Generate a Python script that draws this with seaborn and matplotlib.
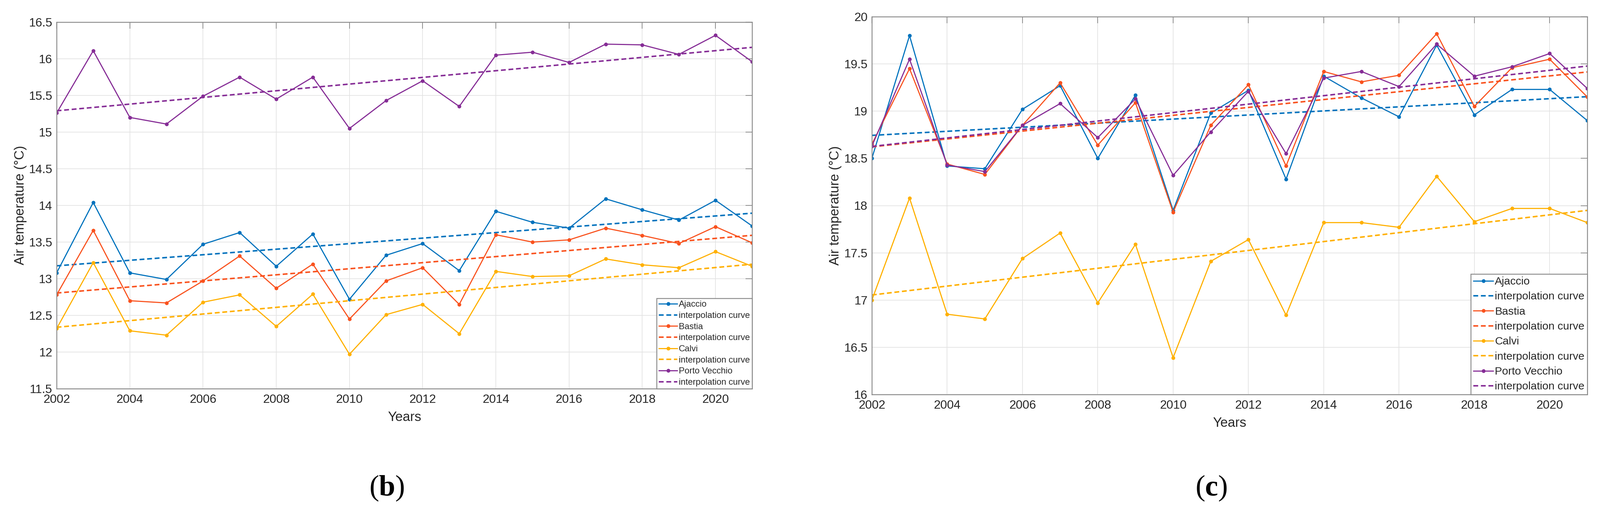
import numpy as np
import pandas as pd
import matplotlib
matplotlib.use("Agg")
import matplotlib.pyplot as plt
import seaborn as sns

# ---------------- data ----------------
years = list(range(2002, 2022))
stations = ["Ajaccio", "Bastia", "Calvi", "Porto Vecchio"]

# panel (b)
b_ajaccio = [13.08, 14.04, 13.08, 12.99, 13.47, 13.63, 13.17, 13.61, 12.72, 13.32,
             13.48, 13.11, 13.92, 13.77, 13.69, 14.09, 13.94, 13.80, 14.07, 13.72]
b_bastia = [12.78, 13.66, 12.70, 12.67, 12.97, 13.31, 12.87, 13.20, 12.45, 12.97,
            13.15, 12.65, 13.60, 13.50, 13.53, 13.69, 13.59, 13.48, 13.71, 13.49]
b_calvi = [12.32, 13.22, 12.29, 12.23, 12.68, 12.78, 12.35, 12.79, 11.97, 12.51,
           12.65, 12.25, 13.10, 13.03, 13.04, 13.27, 13.19, 13.15, 13.37, 13.17]
b_porto = [15.26, 16.11, 15.20, 15.11, 15.49, 15.75, 15.45, 15.75, 15.05, 15.43,
           15.70, 15.35, 16.05, 16.09, 15.95, 16.20, 16.19, 16.06, 16.32, 15.96]

# panel (c)
c_ajaccio = [18.50, 19.80, 18.42, 18.39, 19.02, 19.27, 18.50, 19.17, 17.95, 18.98,
             19.22, 18.28, 19.37, 19.14, 18.94, 19.70, 18.96, 19.23, 19.23, 18.90]
c_bastia = [18.65, 19.45, 18.44, 18.33, 18.85, 19.30, 18.64, 19.09, 17.93, 18.85,
            19.28, 18.42, 19.42, 19.31, 19.38, 19.82, 19.05, 19.46, 19.55, 19.15]
c_calvi = [17.00, 18.08, 16.85, 16.80, 17.44, 17.71, 16.97, 17.59, 16.39, 17.41,
           17.64, 16.84, 17.82, 17.82, 17.77, 18.31, 17.83, 17.97, 17.97, 17.82]
c_porto = [18.63, 19.55, 18.43, 18.36, 18.85, 19.08, 18.72, 19.13, 18.32, 18.78,
           19.21, 18.55, 19.35, 19.42, 19.26, 19.71, 19.37, 19.47, 19.61, 19.24]

b_yticks = [11.5, 12, 12.5, 13, 13.5, 14, 14.5, 15, 15.5, 16, 16.5]
c_yticks = [16, 16.5, 17, 17.5, 18, 18.5, 19, 19.5, 20]
xticks = [2002, 2004, 2006, 2008, 2010, 2012, 2014, 2016, 2018, 2020]
trend_label = "interpolation curve"
xlabel = "Years"
ylabel = "Air temperature (\u00b0C)"

colors = ["#0072BD", "#F9521E", "#FFB000", "#862D96"]

# ---------------- style ----------------
sns.set_theme(style="white")
plt.rcParams["font.family"] = ["Liberation Sans", "DejaVu Sans"]
plt.rcParams["mathtext.fontset"] = "custom"
plt.rcParams["mathtext.bf"] = "Liberation Serif:bold"

W, H = 4408, 1419
fig = plt.figure(figsize=(W / 100, H / 100), dpi=100)

def px_axes(l, t, r, b):
    return fig.add_axes([l / W, 1 - b / H, (r - l) / W, (b - t) / H])

ax_b = px_axes(156, 61, 2072, 1071)
ax_c = px_axes(2402, 46, 4373, 1087)

SPINE = "#8A8A8A"
TXT = "#262626"

def draw(ax, series, yticks, leg_fs, leg_hl, leg_ls, ylab_x, xlab_y):
    handles, labels = [], []
    for name, vals, col in zip(stations, series, colors):
        df = pd.DataFrame({"year": years, "temp": vals})
        n0 = len(ax.lines)
        sns.lineplot(data=df, x="year", y="temp", ax=ax, color=col, lw=2.2,
                     marker="o", markersize=7.5, markeredgewidth=0,
                     errorbar=None, legend=False)
        handles.append(ax.lines[n0]); labels.append(name)
        n1 = len(ax.lines)
        sns.regplot(data=df, x="year", y="temp", ax=ax, scatter=False, ci=None,
                    truncate=True, color=col,
                    line_kws=dict(lw=3.0, dashes=(3.2, 1.8)))
        handles.append(ax.lines[n1]); labels.append(trend_label)

    ax.set_xlim(2002, 2021)
    ax.set_ylim(yticks[0], yticks[-1])
    ax.set_xticks(xticks)
    ax.set_yticks(yticks)
    ax.set_yticklabels([f"{t:g}" for t in yticks])
    ax.grid(True, color="#E2E2E2", lw=1.3)
    ax.set_axisbelow(True)
    for s in ax.spines.values():
        s.set_visible(True)
        s.set_color(SPINE)
        s.set_linewidth(1.8)
    ax.tick_params(axis="both", direction="in", top=True, right=True,
                   length=13, width=1.5, color=SPINE, labelsize=24,
                   labelcolor=TXT)
    ax.tick_params(axis="x", pad=11)
    ax.tick_params(axis="y", pad=8.6)
    ax.set_xlabel(xlabel, fontsize=26.5, color=TXT)
    ax.set_ylabel(ylabel, fontsize=26.5, color=TXT)
    ax.yaxis.set_label_coords(ylab_x, 0.5)
    ax.xaxis.set_label_coords(0.5, xlab_y)

    leg = ax.legend(handles, labels, loc="lower right", bbox_to_anchor=(1, 0),
                    borderaxespad=0, fontsize=leg_fs, handlelength=leg_hl,
                    handletextpad=0.15, borderpad=0.25, labelspacing=leg_ls,
                    fancybox=False, framealpha=1, edgecolor=SPINE)
    leg.get_frame().set_linewidth(1.8)
    for t in leg.get_texts():
        t.set_color(TXT)

draw(ax_b, [b_ajaccio, b_bastia, b_calvi, b_porto], b_yticks,
     17.3, 2.15, 0.36, -0.043, -0.061)
draw(ax_c, [c_ajaccio, c_bastia, c_calvi, c_porto], c_yticks,
     21.8, 1.8, 0.44, -0.042, -0.060)

fig.text(1065 / W, 1 - 1346 / H, r"($\mathbf{b}$)", fontsize=58,
         family="Liberation Serif", ha="center", va="center", color="black")
fig.text(3337 / W, 1 - 1346 / H, r"($\mathbf{c}$)", fontsize=58,
         family="Liberation Serif", ha="center", va="center", color="black")

fig.savefig("out.png", dpi=100, facecolor="white")
